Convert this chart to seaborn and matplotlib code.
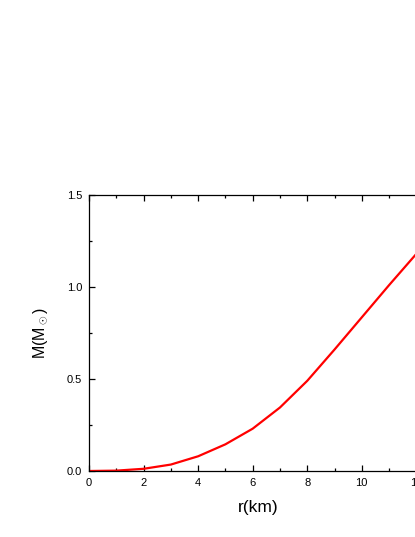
import matplotlib
matplotlib.use("Agg")
import matplotlib.pyplot as plt
from matplotlib.ticker import MultipleLocator
import seaborn as sns
import pandas as pd

# mass profile
r_km = [0, 1, 2, 3, 4, 5, 6, 7, 8, 9, 10, 11, 12]
mass = [0.0, 0.002, 0.012, 0.035, 0.08, 0.145, 0.23, 0.345, 0.49,
        0.66, 0.835, 1.01, 1.18]

df = pd.DataFrame({"r": r_km, "M": mass})

sns.set_style("ticks", {"text.color": "black", "axes.labelcolor": "black",
                        "xtick.color": "black", "ytick.color": "black"})
plt.rcParams["font.family"] = ["Liberation Sans", "DejaVu Sans"]
plt.rcParams["mathtext.fontset"] = "custom"
plt.rcParams["mathtext.rm"] = "Liberation Sans"

fig = plt.figure(figsize=(4.15, 5.37), dpi=100)
ax = fig.add_axes([0.2145, 0.1229, 0.815, 0.514])

sns.lineplot(data=df, x="r", y="M", ax=ax, color="#ff0000", linewidth=1.6)

ax.set_xlim(0, 12.4)
ax.set_ylim(0, 1.5)
ax.xaxis.set_major_locator(MultipleLocator(2))
ax.xaxis.set_minor_locator(MultipleLocator(1))
ax.yaxis.set_major_locator(MultipleLocator(0.5))
ax.yaxis.set_minor_locator(MultipleLocator(0.25))
ax.tick_params(which="both", direction="in", top=True, right=True,
               labelsize=8, width=0.9, color="black", labelcolor="black", pad=5)
ax.tick_params(which="major", length=4)
ax.tick_params(which="minor", length=2.5)
for s in ax.spines.values():
    s.set_linewidth(0.9)
    s.set_color("black")

ax.set_xlabel("r(km)", fontsize=12.5, labelpad=9, color="black")
ax.set_ylabel(r"M(M$_\odot$)", fontsize=11.5, labelpad=12, color="black")

fig.savefig("out.png", dpi=100)
